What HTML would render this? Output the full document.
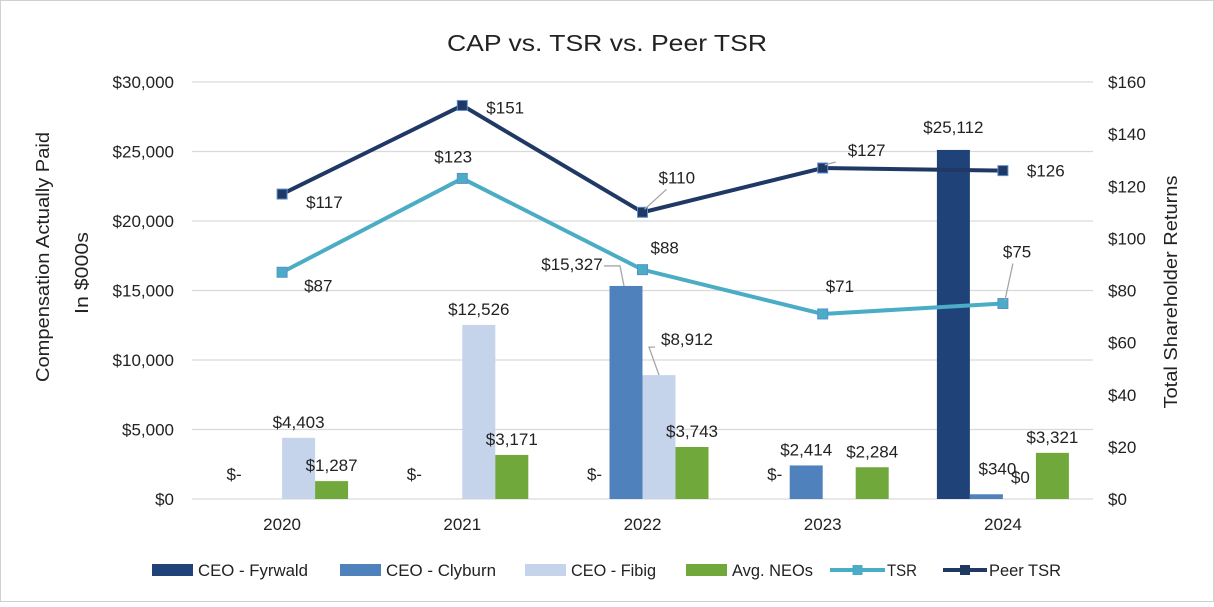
<!DOCTYPE html>
<html><head><meta charset="utf-8"><style>
body{margin:0;background:#fff;}
svg text{font-family:"Liberation Sans",sans-serif;fill:#222;}
</style></head><body>
<svg id="c" width="1214" height="602" xmlns="http://www.w3.org/2000/svg">
<rect x="0.5" y="0.5" width="1213" height="601" fill="#fff" stroke="#d0d0d0"/>
<text x="607" y="51" font-size="23" text-anchor="middle" textLength="320" lengthAdjust="spacingAndGlyphs">CAP vs. TSR vs. Peer TSR</text>
<g id="grid"></g><g id="bars"></g><g id="lines"></g><g id="leaders" stroke="#a6a6a6" stroke-width="1.3" fill="none"></g><g id="labels"></g><g id="axes"></g><g id="legend"></g>
</svg>
<script>
const years=["2020","2021","2022","2023","2024"];
const fyrwald=[null,null,null,null,25112];
const clyburn=[null,null,15327,2414,340];
const fibig=[4403,12526,8912,null,0];
const neos=[1287,3171,3743,2284,3321];
const tsr=[87,123,88,71,75];
const peer=[117,151,110,127,126];
const leftTicks=[0,5000,10000,15000,20000,25000,30000];
const rightTicks=[0,20,40,60,80,100,120,140,160];
const NS="http://www.w3.org/2000/svg";
const X0=192,X1=1093,Y0=499,Y1=82;
const xc=i=>X0+(X1-X0)/years.length*(i+0.5);
const yl=v=>Y0-v/30000*(Y0-Y1);
const yr=v=>Y0-v/160*(Y0-Y1);
function mk(p,t,a){const e=document.createElementNS(NS,t);for(const k in a)e.setAttribute(k,a[k]);document.getElementById(p).appendChild(e);return e;}
const fmt=v=>"$"+v.toLocaleString("en-US");
leftTicks.forEach(t=>{
 const l=mk("grid","line",{x1:X0,x2:X1,y1:yl(t),y2:yl(t),stroke:"#d9d9d9","stroke-width":1.3});
 
 
 const tx=mk("axes","text",{x:174,y:yl(t)+6,"font-size":17,"text-anchor":"end"});tx.textContent=t===0?"$0":fmt(t);
 
 
});
rightTicks.forEach(t=>{
 const tx=mk("axes","text",{x:1108,y:yr(t)+6,"font-size":17});tx.textContent="$"+t;
 
 
});
years.forEach((y,i)=>{
 const tx=mk("axes","text",{x:xc(i),y:530,"font-size":17,"text-anchor":"middle"});tx.textContent=y;
 
 
});
let t=mk("axes","text",{transform:"translate(49,257) rotate(-90)","font-size":18,"text-anchor":"middle",textLength:250,lengthAdjust:"spacingAndGlyphs"});t.textContent="Compensation Actually Paid";


t=mk("axes","text",{transform:"translate(88,273) rotate(-90)","font-size":18,"text-anchor":"middle",textLength:82,lengthAdjust:"spacingAndGlyphs"});t.textContent="In $000s";


t=mk("axes","text",{transform:"translate(1177,292) rotate(-90)","font-size":18,"text-anchor":"middle",textLength:233,lengthAdjust:"spacingAndGlyphs"});t.textContent="Total Shareholder Returns";


const series=[[fyrwald,"#1f4378"],[clyburn,"#4f81bd"],[fibig,"#c5d4ea"],[neos,"#70a83b"]];
const BW=33;
series.forEach(([arr,col],s)=>{
 arr.forEach((v,i)=>{
  if(v===null)return;
  const x=xc(i)-66+s*BW;
  const r=mk("bars","rect",{x:x,y:yl(v),width:BW,height:Math.max(Y0-yl(v),0.01),fill:col});
  
  
 });
});
fyrwald.forEach((v,i)=>{if(v!==null)return;
 const tx=mk("labels","text",{x:xc(i)-48,y:Y0-19,"font-size":17,"text-anchor":"middle"});tx.textContent="$-";
 
 
});
const barLabOff={"0":[[0,0],[0,0],[0,0],[0,0],[0,-7]],"1":[[0,0],[0,0],[-54,-6],[0,0],[11,-10]],"2":[[0,0],[0,0],[28,-20],[0,0],[1,-6]],"3":[[0,0],[0,0],[0,0],[0,0],[0,0]]};
series.forEach(([arr],s)=>{
 arr.forEach((v,i)=>{
  if(v===null)return;
  const o=barLabOff[s][i];
  const bx=xc(i)-66+s*BW+BW/2;
  const tx=mk("labels","text",{x:bx+o[0],y:yl(v)-10+o[1],"font-size":17,"text-anchor":"middle"});
  tx.textContent=v===0?"$0":fmt(v);
  
  
  if(Math.abs(o[0])>20){
   const ld=mk("leaders","polyline",{points:o[0]<0?`${bx+o[0]+32},${yl(v)-20} ${bx-6},${yl(v)-20} ${bx-2},${yl(v)}`:`${bx+o[0]-32},${yl(v)-28} ${bx+o[0]-38},${yl(v)-28} ${bx},${yl(v)}`});
   
   
  }
 });
});
function line(arr,col,name,offs){
 const pts=arr.map((v,i)=>xc(i)+","+yr(v)).join(" ");
 const p=mk("lines","polyline",{points:pts,fill:"none",stroke:col,"stroke-width":4});
 
 
 arr.forEach((v,i)=>{
  const m=mk("lines","rect",{x:xc(i)-5,y:yr(v)-5,width:10,height:10,fill:col,stroke:"#5b8fd0","stroke-width":1});
  
  
  const tx=mk("labels","text",{x:xc(i)+offs[i][0],y:yr(v)+offs[i][1],"font-size":17});
  tx.textContent="$"+v;
  
  
  if(offs[i][2]){
   const ld=mk("leaders","line",{x1:xc(i)+2,y1:yr(v)-3,x2:xc(i)+offs[i][0]+offs[i][2],y2:yr(v)+offs[i][1]+6});
   
   
  }
 });
}
line(tsr,"#4bacc6","tsr",[[22,19],[-28,-16],[8,-16],[3,-22],[0,-46,10]]);
line(peer,"#1f3864","peer-tsr",[[24,14],[24,8],[16,-29,8],[25,-12,-12],[24,6]]);
const leg=[["CEO - Fyrwald","#1f4378",152,"bar",110,41],["CEO - Clyburn","#4f81bd",340,"bar",110,41],["CEO - Fibig","#c5d4ea",525,"bar",85,41],["Avg. NEOs","#70a83b",686,"bar",81,41],["TSR","#4bacc6",830,"line",30,55],["Peer TSR","#1f3864",943,"line",72,44]];
leg.forEach(([n,c,x,k,w,sw])=>{
 const g=mk("legend","g",{});
 
 
 if(k==="bar"){const r=document.createElementNS(NS,"rect");r.setAttribute("x",x);r.setAttribute("y",564);r.setAttribute("width",sw);r.setAttribute("height",12);r.setAttribute("fill",c);g.appendChild(r);}
 else{const l=document.createElementNS(NS,"line");l.setAttribute("x1",x);l.setAttribute("x2",x+sw);l.setAttribute("y1",570);l.setAttribute("y2",570);l.setAttribute("stroke",c);l.setAttribute("stroke-width",4);g.appendChild(l);
  const r=document.createElementNS(NS,"rect");r.setAttribute("x",x+sw/2-5);r.setAttribute("y",565);r.setAttribute("width",10);r.setAttribute("height",10);r.setAttribute("fill",c);g.appendChild(r);}
 const tx=document.createElementNS(NS,"text");tx.setAttribute("x",x+sw+(k==="bar"?5:2));tx.setAttribute("y",576);tx.setAttribute("font-size",17);tx.setAttribute("textLength",w);tx.setAttribute("lengthAdjust","spacingAndGlyphs");tx.textContent=n;g.appendChild(tx);
});
</script>
</body></html>
